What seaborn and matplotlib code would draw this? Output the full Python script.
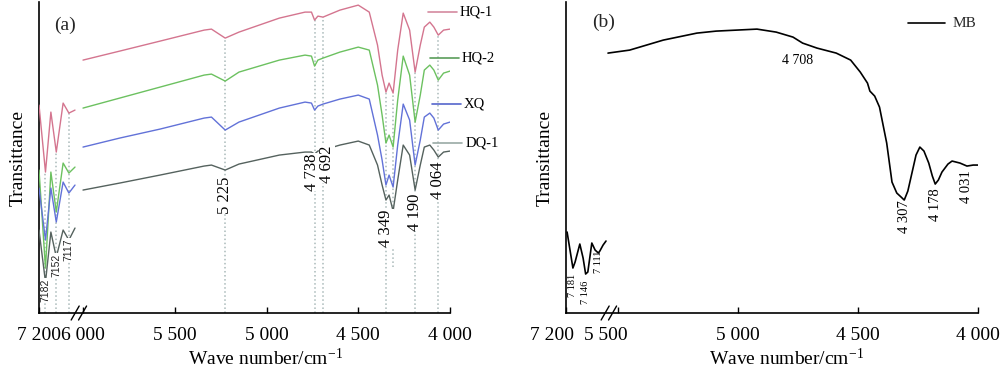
import numpy as np
import pandas as pd
import seaborn as sns
import matplotlib
matplotlib.use('Agg')
from matplotlib import pyplot as plt
from matplotlib.ticker import FixedLocator, FixedFormatter, NullLocator
from matplotlib.transforms import ScaledTranslation

# ---- panel (a): NIR spectra, left piece 7200-7100, main piece 6000-4000
wn_a_left = [7200, 7182, 7167, 7152, 7133, 7117, 7100]
hq1_left = [208, 141, 201, 161, 210, 200, 203]
hq2_left = [143, 45, 141, 101, 150, 140, 146]
xq_left = [125, 73, 125, 91, 131, 120, 128]
dq1_left = [83, 31, 81, 56, 83, 73, 85]

wn_a = [6000, 5800, 5580, 5340, 5300, 5225, 5150, 4930, 4790, 4755, 4738, 4720, 4692, 4600,
        4500, 4440, 4395, 4370, 4349, 4332, 4310, 4285, 4255, 4220, 4190, 4162, 4140, 4110,
        4088, 4064, 4035, 4000]
hq1 = [253, 262, 272, 283, 284, 275, 281, 295, 301, 301, 293, 297, 296, 303,
       308, 301, 268, 238, 221, 230, 220, 263, 300, 283, 241, 268, 286, 291, 286, 278, 283, 284]
hq2 = [205, 215, 226, 238, 239, 232, 241, 253, 258, 257, 247, 253, 255, 261,
       266, 263, 228, 198, 170, 178, 166, 213, 257, 238, 191, 218, 243, 248, 243, 233, 240, 242]
xq = [166, 175, 184, 195, 196, 183, 191, 205, 211, 210, 203, 207, 209, 214,
      218, 214, 178, 153, 128, 138, 126, 168, 209, 193, 148, 173, 196, 200, 195, 183, 189, 191]
dq1 = [123, 130, 138, 147, 148, 143, 149, 158, 161, 161, 159, 162, 163, 168,
       172, 168, 148, 128, 113, 118, 102, 133, 168, 158, 123, 148, 166, 168, 163, 156, 161, 162]

samples_a = ['HQ-1', 'HQ-2', 'XQ', 'DQ-1']
colors_a = ['#d4758f', '#6cc160', '#6272d8', '#55625e']
legend_colors_a = ['#d48aa0', '#5a9d5a', '#5566cc', '#9aaaa6']

peaks_a_left = [7182, 7152, 7117]
peaks_a_left_lab = ['7182', '7152', '7117']
peaks_a_left_y = [23, 48, 63]
peaks_a = [5225, 4738, 4692, 4349, 4190, 4064]
peaks_a_lab = ['5 225', '4 738', '4 692', '4 349', '4 190', '4 064']
peaks_a_lab_x = [5225, 4754, 4670, 4349, 4190, 4064]
peaks_a_y = [118, 141, 149, 85, 101, 133]

# ---- panel (b): MB
wn_b_left = [7197, 7189, 7181, 7175, 7162, 7153, 7146, 7140, 7129, 7120, 7111, 7107, 7098, 7090]
mb_left = [81, 63, 45, 51, 69, 55, 39, 41, 70, 63, 60, 62, 68, 72]
wn_b = [5540, 5450, 5310, 5170, 5090, 4920, 4840, 4770, 4730, 4670,
        4590, 4530, 4490, 4460, 4450, 4430, 4410, 4380, 4358, 4338,
        4320, 4307, 4292, 4275, 4258, 4242, 4225, 4205, 4190, 4178,
        4165, 4150, 4125, 4108, 4075, 4046, 4020, 4000]
mb = [260, 263, 273, 280, 282, 284, 281, 276, 270, 265,
      260, 253, 241, 230, 222, 217, 206, 170, 131, 120,
      116, 113, 122, 140, 158, 166, 162, 150, 137, 129,
      133, 141, 149, 152, 150, 147, 148, 148]
peaks_b = [7181, 7146, 7111, 4307, 4178, 4046]
peaks_b_lab = ['7 181', '7 146', '7 111', '4 307', '4 178', '4 031']
peaks_b_y = [28, 21, 51, 96, 108, 126]

ticks_a = [7200, 6000, 5500, 5000, 4500, 4000]
ticks_b = [7200, 5500, 5000, 4500, 4000]
# small horizontal nudges (px) of the crowded tick labels of panel b
shift_b = [-14, -12, 0, 0, 0]


def tick_text(v):
    return f'{v:,}'.replace(',', ' ')


def broken_scale(knots_wn, knots_pos):
    xp = np.asarray(knots_wn, float)
    fp = np.asarray(knots_pos, float)

    def mk(a, b):
        def f(v):
            v = np.asarray(v, float)
            out = np.interp(v, a, b)
            out = np.where(v < a[0], b[0] + (v - a[0]) * (b[1] - b[0]) / (a[1] - a[0]), out)
            out = np.where(v > a[-1], b[-1] + (v - a[-1]) * (b[-1] - b[-2]) / (a[-1] - a[-2]), out)
            return out
        return f
    return mk(xp, fp), mk(fp, xp)


sns.set_theme(style='ticks')
plt.rcParams['font.family'] = ['Liberation Serif', 'DejaVu Serif']
plt.rcParams['mathtext.fontset'] = 'custom'
plt.rcParams['mathtext.rm'] = 'Liberation Serif'
plt.rcParams['mathtext.it'] = 'Liberation Serif:italic'

fig = plt.figure(figsize=(10, 3.71), dpi=100)
ax_a = fig.add_axes([0.039, 0.1563, 0.411, 0.838])
ax_b = fig.add_axes([0.566, 0.1563, 0.412, 0.838])

# long-form data for panel a
rows = []
for name, left, main in zip(samples_a, [hq1_left, hq2_left, xq_left, dq1_left], [hq1, hq2, xq, dq1]):
    for w, v in zip(wn_a_left, left):
        rows.append((name, name + '_l', w, v))
    for w, v in zip(wn_a, main):
        rows.append((name, name + '_m', w, v))
df_a = pd.DataFrame(rows, columns=['sample', 'seg', 'wn', 'T'])

rows = [('MB', 'l', w, v) for w, v in zip(wn_b_left, mb_left)]
rows += [('MB', 'm', w, v) for w, v in zip(wn_b, mb)]
df_b = pd.DataFrame(rows, columns=['sample', 'seg', 'wn', 'T'])

fa, ia = broken_scale([4000, 6000, 7100, 7200], [0, 367, 375, 411])
fb, ib = broken_scale([4000, 5540, 7090, 7200], [0, 370, 372, 412])

for ax, fwd, inv in [(ax_a, fa, ia), (ax_b, fb, ib)]:
    ax.set_xscale('function', functions=(fwd, inv))

# peak marker lines behind curves (panel a), up to the HQ-1 trace
vline_c = '#a9b9b9'
for w in peaks_a_left:
    top = np.interp(w, wn_a_left[::-1], hq1_left[::-1])
    ax_a.vlines(w, 0, top, colors=vline_c, linestyles=':', lw=1.1, zorder=1)
for w in peaks_a:
    top = np.interp(w, wn_a[::-1], hq1[::-1])
    ax_a.vlines(w, 0, top, colors=vline_c, linestyles=':', lw=1.1, zorder=1)
ax_a.vlines(4310, 46, np.interp(4310, wn_a[::-1], hq1[::-1]), colors=vline_c,
            linestyles=':', lw=1.1, zorder=1)

sns.lineplot(data=df_a, x='wn', y='T', hue='sample', units='seg', estimator=None,
             palette=dict(zip(samples_a, colors_a)), hue_order=samples_a,
             sort=False, lw=1.0, legend=False, ax=ax_a, zorder=3)
sns.lineplot(data=df_b, x='wn', y='T', units='seg', estimator=None, color='black',
             sort=False, lw=1.2, legend=False, ax=ax_b, zorder=3)

for ax, ticks, brk in [(ax_a, ticks_a, 0.097), (ax_b, ticks_b, 0.104)]:
    ax.set_xlim(7200, 4000)
    ax.set_ylim(0, 311)
    ax.xaxis.set_major_locator(FixedLocator(ticks))
    ax.xaxis.set_major_formatter(FixedFormatter([tick_text(t) for t in ticks]))
    ax.xaxis.set_minor_locator(NullLocator())
    ax.set_yticks([])
    ax.tick_params(axis='x', direction='in', length=4, width=1, pad=10, labelsize=14,
                   colors='black')
    sns.despine(ax=ax)
    for s in ['left', 'bottom']:
        ax.spines[s].set_color('black')
        ax.spines[s].set_linewidth(1.2)
    ax.set_ylabel('Transittance', fontsize=14, labelpad=9, color='black')
    ax.set_xlabel('Wave number/cm$^{-1}$', fontsize=14, color='black')
    # break marks
    dx, dy = 4 / 411, 7 / 311
    for off in (-0.009, 0.009):
        ax.plot([brk + off - dx, brk + off + dx], [-dy, dy], transform=ax.transAxes,
                color='black', lw=1.0, clip_on=False, zorder=5)

for tick, px in zip(ax_b.xaxis.get_major_ticks(len(ticks_b)), shift_b):
    lab = tick.label1
    lab.set_transform(lab.get_transform() + ScaledTranslation(px / 100, 0, fig.dpi_scale_trans))

ax_a.xaxis.set_label_coords(0.552, -0.112)
ax_b.xaxis.set_label_coords(0.536, -0.112)

lab_box = dict(facecolor='white', edgecolor='none', pad=0.3)
for w, t, y in zip(peaks_a_left, peaks_a_left_lab, peaks_a_left_y):
    ax_a.text(w, y, t, rotation=90, ha='center', va='center', fontsize=7.5,
              family=['Liberation Sans', 'DejaVu Sans'], color='#222222', bbox=lab_box, zorder=4)
for w, t, y in zip(peaks_a_lab_x, peaks_a_lab, peaks_a_y):
    ax_a.text(w, y, t, rotation=90, ha='center', va='center', fontsize=12,
              color='black', bbox=lab_box, zorder=4)

for w, t, y in zip(peaks_b, peaks_b_lab, peaks_b_y):
    fs = 7.5 if w > 7000 else 10.5
    ax_b.text(w, y, t, rotation=90, ha='center', va='center', fontsize=fs, color='black', zorder=4)
ax_b.text(4750, 253, '4 708', ha='center', va='center', fontsize=10, color='black')

# legend-like labels next to the traces
leg_y = [0.968, 0.82, 0.672, 0.547]
leg_x0 = [0.946, 0.951, 0.956, 0.959]
for name, c, y, x0 in zip(samples_a, legend_colors_a, leg_y, leg_x0):
    ax_a.plot([x0, x0 + 0.07], [y, y], transform=ax_a.transAxes, color=c, lw=1.2, clip_on=False)
    ax_a.text(x0 + 0.078, y, name, transform=ax_a.transAxes, ha='left', va='center',
              fontsize=10.5, color='black')
ax_b.plot([0.830, 0.920], [0.932, 0.932], transform=ax_b.transAxes, color='black', lw=1.2,
          clip_on=False)
ax_b.text(0.939, 0.932, 'MB', transform=ax_b.transAxes, ha='left', va='center', fontsize=11)

ax_a.text(0.063, 0.926, '(a)', transform=ax_a.transAxes, ha='center', va='center', fontsize=14)
ax_b.text(0.092, 0.936, '(b)', transform=ax_b.transAxes, ha='center', va='center', fontsize=14)

fig.savefig('out.png', dpi=100)
